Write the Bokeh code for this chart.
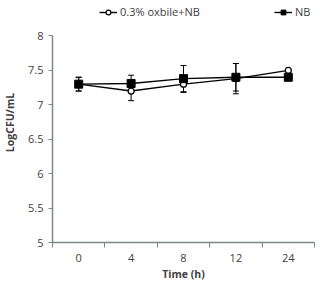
from bokeh.plotting import figure
from bokeh.models import (ColumnDataSource, Range1d, FixedTicker, Whisker, TeeHead,
                          Legend, LegendItem, CustomJSTickFormatter)
from bokeh.embed import file_html
from bokeh.resources import INLINE
import numpy as np

# Sampling times (h) and viable counts (log CFU/mL)
times = ["0", "4", "8", "12", "24"]
oxbile_mean = [7.30, 7.20, 7.30, 7.38, 7.50]
oxbile_err = [0.10, 0.14, 0.12, 0.22, 0.01]
nb_mean = [7.30, 7.31, 7.38, 7.40, 7.40]
nb_err = [0.10, 0.12, 0.19, 0.20, 0.01]
y_ticks = [5, 5.5, 6, 6.5, 7, 7.5, 8]

AXIS = "#7d8787"
TEXT = "#404040"
FONT = "Open Sans"

# each time point sits in the middle of its own category slot
xpos = [i + 0.5 for i in range(len(times))]

ox = ColumnDataSource(dict(
    x=xpos, y=oxbile_mean,
    lo=list(np.array(oxbile_mean) - np.array(oxbile_err)),
    hi=list(np.array(oxbile_mean) + np.array(oxbile_err))))
nb = ColumnDataSource(dict(
    x=xpos, y=nb_mean,
    lo=list(np.array(nb_mean) - np.array(nb_err)),
    hi=list(np.array(nb_mean) + np.array(nb_err))))

# the frame reaches above 8 to leave room for the legend; the y axis
# itself is bounded to 5..8
p = figure(width=320, height=283, output_backend="svg", toolbar_location=None,
           x_range=Range1d(0, len(times)), y_range=Range1d(5, 8.486),
           min_border_left=52, min_border_right=6, min_border_top=2,
           min_border_bottom=37)
p.outline_line_color = None
p.xgrid.visible = False
p.ygrid.visible = False
p.background_fill_color = "white"
p.border_fill_color = "white"

# error bars
for src in (ox, nb):
    w = Whisker(source=src, base="x", upper="hi", lower="lo",
                line_color="black", line_width=1,
                upper_head=TeeHead(size=6, line_color="black", line_width=1),
                lower_head=TeeHead(size=6, line_color="black", line_width=1))
    p.add_layout(w)

ox_line = p.line("x", "y", source=ox, line_color="black", line_width=1.4)
ox_mark = p.scatter("x", "y", source=ox, marker="circle", size=6,
                    fill_color="white", line_color="black", line_width=1.2)
nb_line = p.line("x", "y", source=nb, line_color="black", line_width=1.4)
nb_mark = p.scatter("x", "y", source=nb, marker="square", size=8,
                    fill_color="black", line_color="black")

# x axis: labels centred in slots, tick marks on slot boundaries
xa = p.xaxis[0]
xa.ticker = FixedTicker(ticks=xpos, minor_ticks=list(range(len(times) + 1)))
xa.major_label_overrides = {x: t for x, t in zip(xpos, times)}
xa.major_tick_out = 0
xa.major_tick_in = 0
xa.minor_tick_out = 5
xa.minor_tick_in = 0
xa.minor_tick_line_color = AXIS
xa.axis_line_color = AXIS
xa.axis_line_width = 1.5
xa.major_label_text_font = FONT
xa.major_label_text_font_size = "11px"
xa.major_label_text_color = TEXT
xa.major_label_standoff = 6
xa.axis_label = "Time (h)"
xa.axis_label_text_font = FONT
xa.axis_label_text_font_size = "10.5px"
xa.axis_label_text_font_style = "bold"
xa.axis_label_text_color = TEXT
xa.axis_label_standoff = 2

ya = p.yaxis[0]
ya.ticker = FixedTicker(ticks=y_ticks, minor_ticks=[])
ya.bounds = (min(y_ticks), max(y_ticks))
ya.formatter = CustomJSTickFormatter(code="return tick.toString();")
ya.major_tick_out = 4
ya.major_tick_in = 0
ya.major_tick_line_color = AXIS
ya.axis_line_color = AXIS
ya.axis_line_width = 1.5
ya.major_label_text_font = FONT
ya.major_label_text_font_size = "11px"
ya.major_label_text_color = TEXT
ya.major_label_standoff = 5
ya.axis_label = "LogCFU/mL"
ya.axis_label_text_font = FONT
ya.axis_label_text_font_size = "10.5px"
ya.axis_label_text_font_style = "bold"
ya.axis_label_text_color = TEXT
ya.axis_label_standoff = 8

# horizontal legend across the top of the frame
legend = Legend(items=[
    LegendItem(label="0.3% oxbile+NB", renderers=[ox_line, ox_mark]),
    LegendItem(label="NB", renderers=[nb_line, nb_mark]),
], orientation="horizontal", location=(47, 223), spacing=74,
    glyph_width=18, glyph_height=12, label_standoff=3,
    label_text_font=FONT, label_text_font_size="11px", label_text_color=TEXT,
    border_line_color=None, background_fill_alpha=0, padding=2, margin=0)
p.add_layout(legend)

open("out.html", "w").write(file_html(p, INLINE))
